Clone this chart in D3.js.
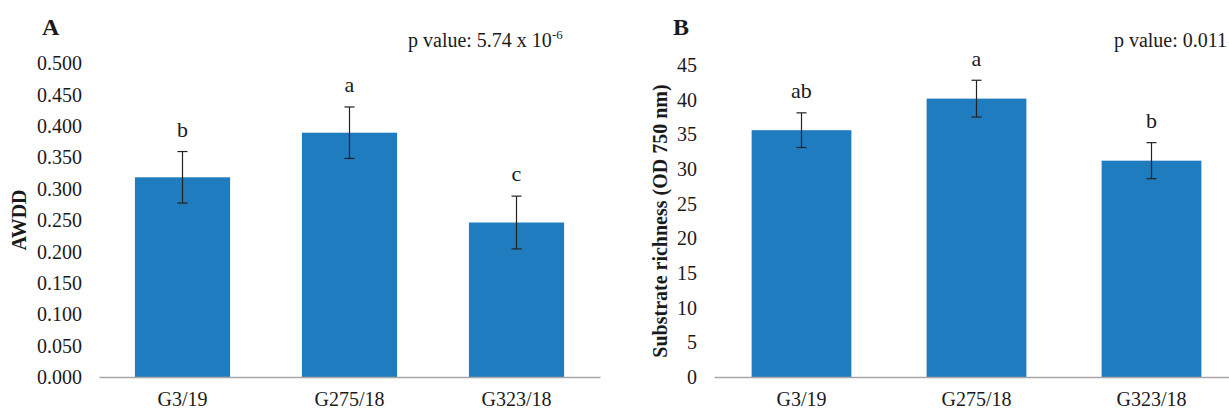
<!DOCTYPE html>
<html>
<head>
<meta charset="utf-8">
<script src="https://cdn.jsdelivr.net/npm/d3@7"></script>
<style>
  html, body { margin: 0; padding: 0; background: #ffffff; }
  svg { display: block; }
  text { font-family: "Liberation Serif", "Times New Roman", serif; fill: #1a1a1a; }
</style>
</head>
<body>
<svg id="chart" width="1229" height="410"></svg>
<script>
// ---- data ----
const categories = ["G3/19", "G275/18", "G323/18"];

const awddValues = [0.318, 0.389, 0.246];
const awddErrors = [0.041, 0.041, 0.042];
const awddLetters = ["b", "a", "c"];
const awddTicks = [0, 0.05, 0.1, 0.15, 0.2, 0.25, 0.3, 0.35, 0.4, 0.45, 0.5];

const richnessValues = [35.6, 40.15, 31.2];
const richnessErrors = [2.5, 2.65, 2.6];
const richnessLetters = ["ab", "a", "b"];
const richnessTicks = [0, 5, 10, 15, 20, 25, 30, 35, 40, 45];

// ---- drawing ----
const svg = d3.select("#chart");
const barColor = "#1f7dbf";

function panel(cfg) {
  const g = svg.append("g");
  const x = d3.scaleBand().domain(categories)
    .range([cfg.x0, cfg.x1]).paddingInner(0.43).paddingOuter(0.215);
  const y = d3.scaleLinear().domain([0, cfg.max]).range([cfg.yBottom, cfg.yTop]);

  // y axis labels only
  const ya = g.append("g").attr("transform", `translate(${cfg.x0 - 17},0)`)
    .call(d3.axisLeft(y).tickValues(cfg.ticks).tickSize(0).tickPadding(0).tickFormat(cfg.fmt));
  ya.select(".domain").remove();
  ya.selectAll("text").style("font-family", '"Liberation Serif", serif')
    .style("font-size", "20px").attr("fill", "#1a1a1a").attr("dy", "0.33em");

  // bars
  g.selectAll("rect.bar").data(categories).enter().append("rect")
    .attr("class", "bar")
    .attr("x", d => x(d))
    .attr("width", x.bandwidth())
    .attr("y", (d, i) => y(cfg.values[i]))
    .attr("height", (d, i) => y(0) - y(cfg.values[i]))
    .attr("fill", barColor);

  // x axis
  const xa = g.append("g").attr("transform", `translate(0,${cfg.yBottom})`)
    .call(d3.axisBottom(x).tickSize(0).tickSizeOuter(0).tickPadding(29));
  xa.select(".domain").attr("stroke", "#a6a6a6").attr("stroke-width", 1.5);
  xa.selectAll("text").style("font-family", '"Liberation Serif", serif')
    .style("font-size", "20px").attr("fill", "#1a1a1a").attr("dy", "0");

  // error bars
  const eb = g.selectAll("g.err").data(categories).enter().append("g").attr("class", "err");
  const cx = d => x(d) + x.bandwidth() / 2;
  eb.append("line")
    .attr("x1", cx).attr("x2", cx)
    .attr("y1", (d, i) => y(cfg.values[i] + cfg.errors[i]))
    .attr("y2", (d, i) => y(cfg.values[i] - cfg.errors[i]))
    .attr("stroke", "#222").attr("stroke-width", 1.2);
  [1, -1].forEach(s => {
    eb.append("line")
      .attr("x1", d => cx(d) - 5).attr("x2", d => cx(d) + 5)
      .attr("y1", (d, i) => y(cfg.values[i] + s * cfg.errors[i]))
      .attr("y2", (d, i) => y(cfg.values[i] + s * cfg.errors[i]))
      .attr("stroke", "#222").attr("stroke-width", 1.2);
  });

  // significance letters
  g.selectAll("text.sig").data(categories).enter().append("text")
    .attr("class", "sig")
    .attr("x", cx)
    .attr("y", (d, i) => y(cfg.values[i] + cfg.errors[i]) - 22)
    .attr("dy", "0.33em")
    .attr("text-anchor", "middle")
    .style("font-size", "22px")
    .text((d, i) => cfg.letters[i]);

  // y title
  g.append("text")
    .attr("transform", `translate(${cfg.titleX},${(cfg.yTop + cfg.yBottom) / 2}) rotate(-90)`)
    .attr("text-anchor", "middle")
    .attr("dy", "0.35em")
    .style("font-size", "20px").style("font-weight", "bold")
    .text(cfg.title);

  // panel label
  g.append("text").attr("x", cfg.labelX).attr("y", 34.5)
    .style("font-size", "24px").style("font-weight", "bold").text(cfg.label);

  return g;
}

const gA = panel({
  x0: 99, x1: 600, yTop: 63, yBottom: 377, max: 0.5,
  ticks: awddTicks, fmt: d3.format(".3f"),
  values: awddValues, errors: awddErrors, letters: awddLetters,
  title: "AWDD", titleX: 18.5, label: "A", labelX: 42
});
const gB = panel({
  x0: 714, x1: 1239, yTop: 65, yBottom: 377, max: 45,
  ticks: richnessTicks, fmt: d3.format("d"),
  values: richnessValues, errors: richnessErrors, letters: richnessLetters,
  title: "Substrate richness (OD 750 nm)", titleX: 660, label: "B", labelX: 673
});

// p values
const pA = gA.append("text").attr("x", 408).attr("y", 46.7).style("font-size", "20px");
pA.append("tspan").text("p value: 5.74 x 10");
pA.append("tspan").attr("dy", "-8").style("font-size", "13px").text("-6");

gB.append("text").attr("x", 1227).attr("y", 46.7).attr("text-anchor", "end")
  .style("font-size", "20px").text("p value: 0.011");
</script>
</body>
</html>
